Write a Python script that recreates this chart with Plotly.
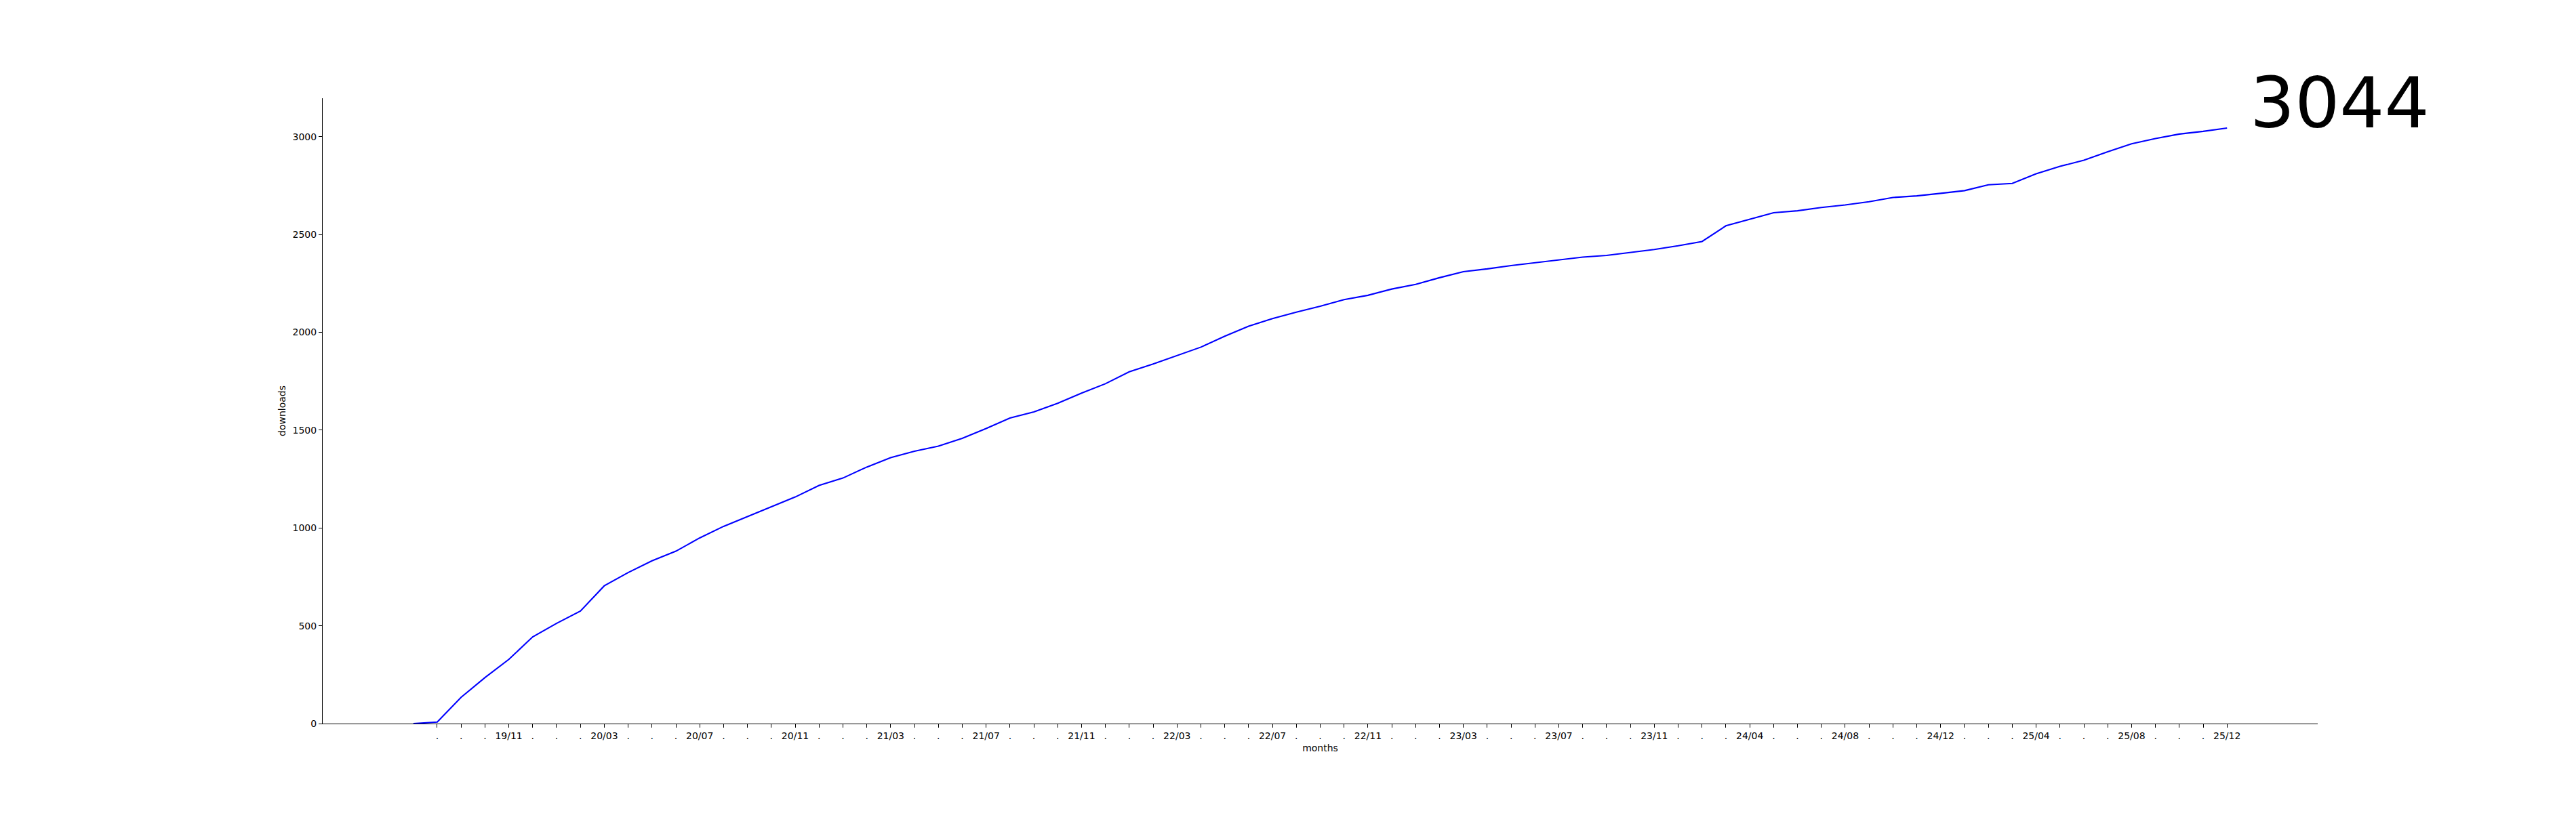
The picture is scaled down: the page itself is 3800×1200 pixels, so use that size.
import plotly.graph_objects as go

# cumulative downloads per month (index 0 = first month, before the first tick)
downloads = [0, 8, 134, 235, 328, 443, 512, 575, 704, 772,
             832, 881, 949, 1008, 1058, 1108, 1158, 1217, 1255, 1311,
             1359, 1392, 1418, 1458, 1508, 1562, 1593, 1637, 1689, 1737,
             1798, 1838, 1881, 1924, 1980, 2031, 2070, 2103, 2133, 2167,
             2189, 2221, 2245, 2279, 2310, 2324, 2341, 2356, 2370, 2384,
             2393, 2407, 2423, 2442, 2464, 2544, 2577, 2611, 2621, 2638,
             2651, 2667, 2689, 2697, 2710, 2724, 2754, 2761, 2810, 2848,
             2879, 2923, 2963, 2990, 3013, 3027, 3044]

month_labels = ["19/11", "20/03", "20/07", "20/11", "21/03", "21/07", "21/11",
                "22/03", "22/07", "22/11", "23/03", "23/07", "23/11", "24/04",
                "24/08", "24/12", "25/04", "25/08", "25/12"]

y_tick_vals = [0, 500, 1000, 1500, 2000, 2500, 3000]

x = list(range(len(downloads)))
tick_vals = x[1:]
tick_text = []
k = 0
for i, v in enumerate(tick_vals):
    if i % 4 == 3:
        tick_text.append(month_labels[k])
        k += 1
    else:
        tick_text.append(".")

FONT = "DejaVu Sans"

fig = go.Figure()
fig.add_trace(go.Scatter(x=x, y=downloads, mode="lines",
                         line=dict(color="#0000ff", width=2.1),
                         showlegend=False, hoverinfo="skip"))

n = len(downloads) - 1
pad = 0.05 * n
ymax = downloads[-1] * 1.05

fig.add_annotation(x=x[-1], y=downloads[-1], text=str(downloads[-1]),
                   showarrow=False, xanchor="left", yanchor="bottom",
                   xshift=32, yshift=-26,
                   font=dict(family=FONT, size=104, color="black"))

fig.update_layout(
    width=3800, height=1200,
    margin=dict(l=468, r=389, t=137, b=140),
    paper_bgcolor="white", plot_bgcolor="white",
    font=dict(family=FONT, size=14, color="black"),
    xaxis=dict(range=[-pad, n + pad], tickmode="array", tickvals=tick_vals,
               ticktext=tick_text, showgrid=False, zeroline=False,
               showline=True, linecolor="black", linewidth=1.1,
               ticks="outside", ticklen=5, tickwidth=1.1, tickcolor="black",
               tickangle=0, tickfont=dict(family=FONT, size=14),
               title=dict(text="months", standoff=6,
                          font=dict(family=FONT, size=14)),
               automargin=False),
    yaxis=dict(range=[0, ymax], tickmode="array", tickvals=y_tick_vals,
               showgrid=False, zeroline=False,
               showline=True, linecolor="black", linewidth=1.1,
               ticks="outside", ticklen=5, tickwidth=1.1, tickcolor="black",
               tickfont=dict(family=FONT, size=14),
               title=dict(text="downloads", standoff=6,
                          font=dict(family=FONT, size=14)),
               automargin=False),
)

fig.write_html("out.html")
